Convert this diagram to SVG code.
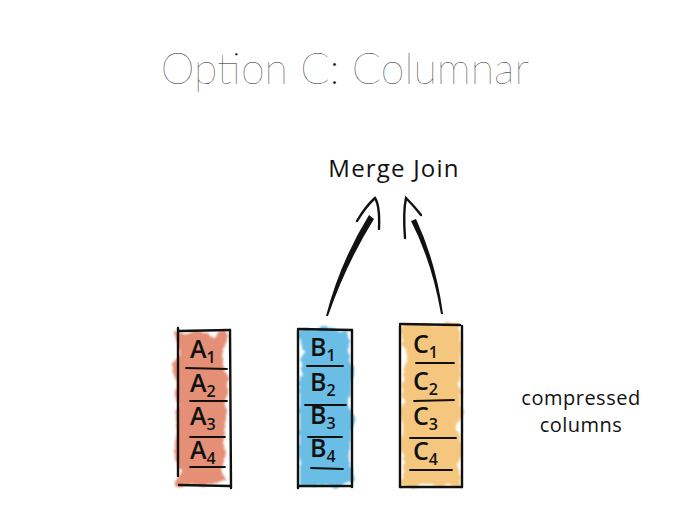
<svg xmlns="http://www.w3.org/2000/svg" width="690" height="518" viewBox="0 0 690 518">
<defs>
<filter id="wash" x="-20%" y="-20%" width="140%" height="140%">
<feTurbulence type="fractalNoise" baseFrequency="0.05" numOctaves="3" seed="4" result="n"/>
<feDisplacementMap in="SourceGraphic" in2="n" scale="16" xChannelSelector="R" yChannelSelector="G" result="d"/>
<feGaussianBlur in="d" stdDeviation="1.2"/>
</filter>
<style>
.title{font-family:Lato,"Liberation Sans",sans-serif;font-weight:100;font-size:43px;fill:#222}
.hand{font-family:"Open Sans","Noto Sans",sans-serif;fill:#111;font-weight:500}
.lab{font-size:25px}
.sub{font-size:16px}
.cell{font-weight:600}
.line{fill:none;stroke:#111;stroke-width:2.4;stroke-linecap:round}
.thin{fill:none;stroke:#111;stroke-width:1.8;stroke-linecap:round}
.ink{fill:#111}
</style>
</defs>
<rect width="690" height="518" fill="#fff"/>
<text class="title" x="345" y="84" text-anchor="middle">Option C: Columnar</text>

<g id="merge-join">
<text class="hand" x="394" y="177" text-anchor="middle" font-size="24" letter-spacing="1.2">Merge Join</text>
</g>

<g id="connectors">
<path class="ink" d="M326,316 Q340,262 369,215 L374,219 Q346,264 328,316 Z"/>
<path class="line" d="M357,221 Q366,206 375,198 Q380,206 379,229"/>
<path class="ink" d="M441,314 Q432,262 411,221 L416,219 Q436,262 443,314 Z"/>
<path class="line" d="M405,238 Q403,212 406,198 Q414,206 421,215"/>
</g>

<g id="col-a">
<rect x="176" y="334" width="50" height="150" fill="#dc6a48" opacity="0.75" filter="url(#wash)"/>
<path class="line" d="M178,328 L178,476"/>
<path class="line" d="M230,330 L231,488"/>
<path class="line" d="M179,331 L230,330"/>
<path class="line" d="M179,485 L230,486"/>
<path class="thin" d="M186,368 L227,369"/>
<path class="thin" d="M190,401 L227,401"/>
<path class="thin" d="M190,437 L225,437"/>
<path class="thin" d="M190,467 L225,467"/>
<text class="hand cell" x="190" y="358"><tspan class="lab">A</tspan><tspan class="sub" dy="5">1</tspan></text>
<text class="hand cell" x="190" y="392"><tspan class="lab">A</tspan><tspan class="sub" dy="5">2</tspan></text>
<text class="hand cell" x="190" y="425"><tspan class="lab">A</tspan><tspan class="sub" dy="5">3</tspan></text>
<text class="hand cell" x="190" y="459"><tspan class="lab">A</tspan><tspan class="sub" dy="5">4</tspan></text>
</g>

<g id="col-b">
<rect x="300" y="330" width="52" height="155" fill="#45aee0" opacity="0.8" filter="url(#wash)"/>
<path class="line" d="M298,330 L298,488"/>
<path class="line" d="M352,330 L352,487"/>
<path class="line" d="M298,329 L352,330"/>
<path class="line" d="M299,486 L352,486"/>
<path class="thin" d="M307,366 L343,366"/>
<path class="thin" d="M305,405 L346,405"/>
<path class="thin" d="M308,437 L342,437"/>
<path class="thin" d="M311,468 L343,469"/>
<text class="hand cell" x="310" y="356"><tspan class="lab">B</tspan><tspan class="sub" dy="5">1</tspan></text>
<text class="hand cell" x="310" y="391"><tspan class="lab">B</tspan><tspan class="sub" dy="5">2</tspan></text>
<text class="hand cell" x="310" y="424"><tspan class="lab">B</tspan><tspan class="sub" dy="5">3</tspan></text>
<text class="hand cell" x="310" y="457"><tspan class="lab">B</tspan><tspan class="sub" dy="5">4</tspan></text>
</g>

<g id="col-c">
<rect x="402" y="325" width="58" height="160" fill="#f2b553" opacity="0.75" filter="url(#wash)"/>
<path class="line" d="M400,326 L400,487"/>
<path class="line" d="M462,326 L462,487"/>
<path class="line" d="M400,324 L460,325"/>
<path class="line" d="M400,487 L462,487"/>
<path class="thin" d="M416,363 L454,363"/>
<path class="thin" d="M414,401 L454,400"/>
<path class="thin" d="M410,438 L456,438"/>
<path class="thin" d="M410,470 L452,470"/>
<text class="hand cell" x="413" y="353"><tspan class="lab">C</tspan><tspan class="sub" dy="5">1</tspan></text>
<text class="hand cell" x="413" y="390"><tspan class="lab">C</tspan><tspan class="sub" dy="5">2</tspan></text>
<text class="hand cell" x="413" y="425"><tspan class="lab">C</tspan><tspan class="sub" dy="5">3</tspan></text>
<text class="hand cell" x="413" y="460"><tspan class="lab">C</tspan><tspan class="sub" dy="5">4</tspan></text>
</g>

<g id="note">
<text class="hand" x="581" y="405" text-anchor="middle" font-size="20" letter-spacing="0.5">compressed</text>
<text class="hand" x="581" y="432" text-anchor="middle" font-size="20" letter-spacing="0.5">columns</text>
</g>
</svg>
